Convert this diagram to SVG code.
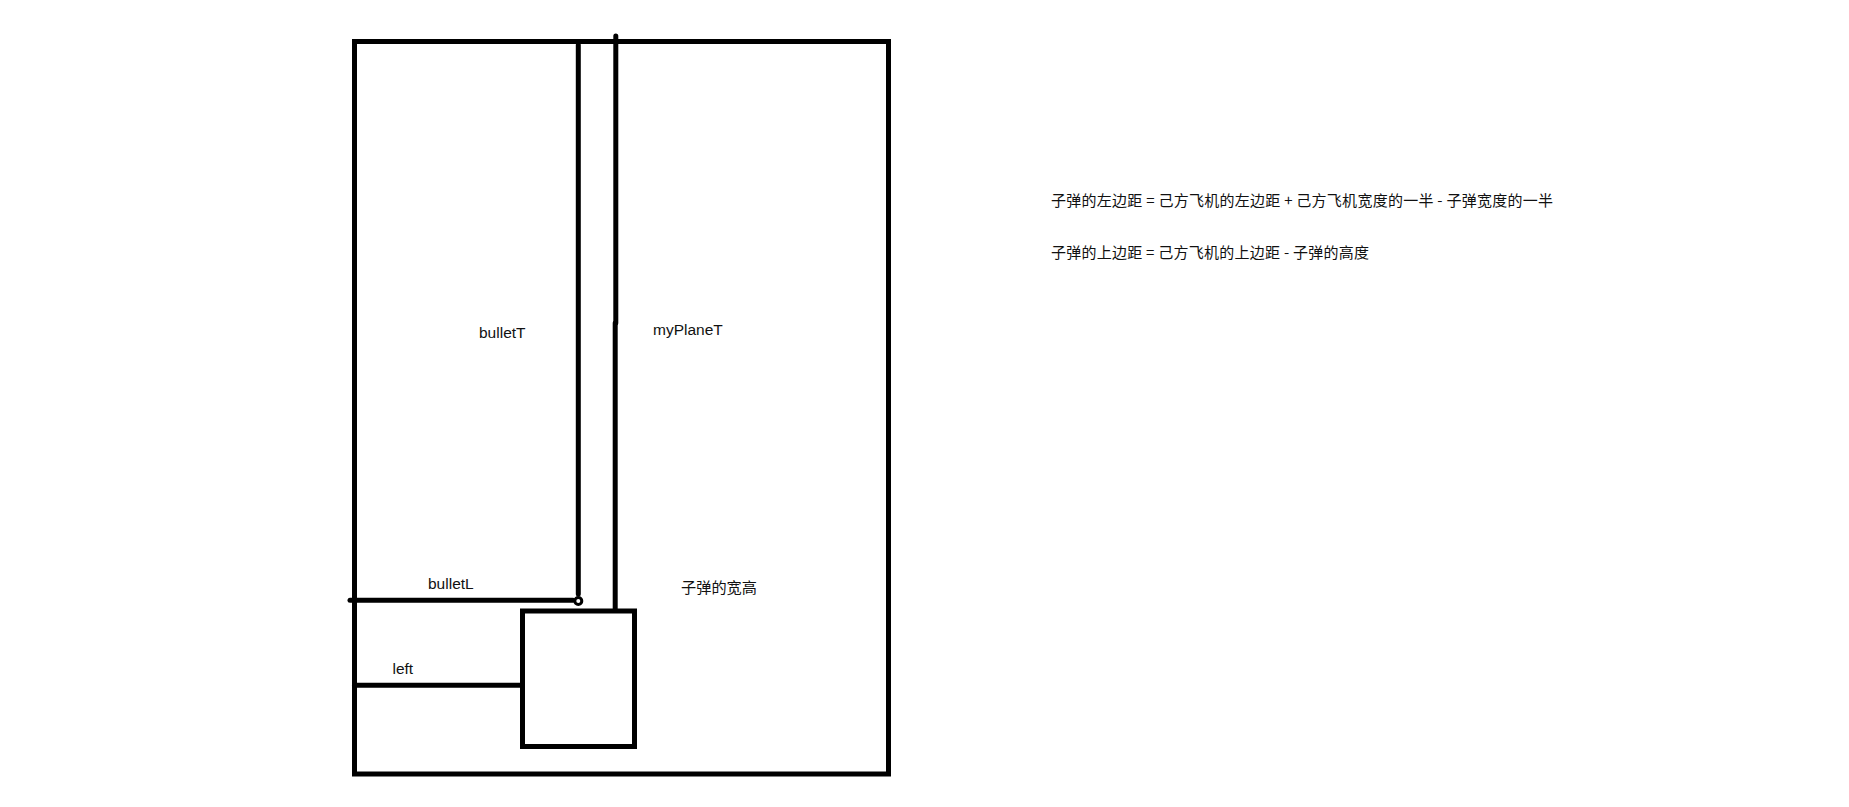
<svg xmlns="http://www.w3.org/2000/svg" width="1849" height="807" viewBox="0 0 1849 807">
<style>
.ln{stroke:#000;stroke-width:5;fill:none;stroke-linecap:round}
.box{stroke:#000;stroke-width:5;fill:none;stroke-linecap:square}
.lbl{font-family:"Liberation Sans","Noto Sans CJK SC",sans-serif;font-size:15.5px;fill:#111}
.cjk{font-family:"Noto Sans CJK SC","Liberation Sans",sans-serif;font-size:15px;fill:#111}
</style>
<rect width="1849" height="807" fill="#fff"/>
<g id="screen">
<rect class="box" x="354.5" y="41.5" width="534" height="732.5"/>
</g>
<g id="myPlane">
<rect class="box" x="522.5" y="611" width="112" height="135.5"/>
</g>
<g id="connectors">
<path class="ln" d="M578.3,45 V594"/>
<circle cx="578.3" cy="601" r="3.5" fill="none" stroke="#000" stroke-width="3"/>
<path class="ln" d="M615.8,36 V323"/>
<path class="ln" stroke-linecap="butt" d="M615.2,323 V609"/>
<path class="ln" d="M350,600.3 H573"/>
<path class="ln" stroke-linecap="butt" d="M354.5,685.3 H522"/>
</g>
<g id="label-bulletT"><text class="lbl" x="479" y="338">bulletT</text></g>
<g id="label-myPlaneT"><text class="lbl" x="653" y="335">myPlaneT</text></g>
<g id="label-bulletL"><text class="lbl" x="428" y="589">bulletL</text></g>
<g id="label-left"><text class="lbl" x="392.5" y="674">left</text></g>
<g id="label-size"><text class="cjk" x="681" y="593" textLength="76" lengthAdjust="spacingAndGlyphs">子弹的宽高</text></g>
<g id="formula-left"><text class="cjk" x="1051" y="205.5" textLength="502" lengthAdjust="spacing">子弹的左边距 = 己方飞机的左边距 + 己方飞机宽度的一半 - 子弹宽度的一半</text></g>
<g id="formula-top"><text class="cjk" x="1051" y="257.5" textLength="318" lengthAdjust="spacing">子弹的上边距 = 己方飞机的上边距 - 子弹的高度</text></g>
</svg>
